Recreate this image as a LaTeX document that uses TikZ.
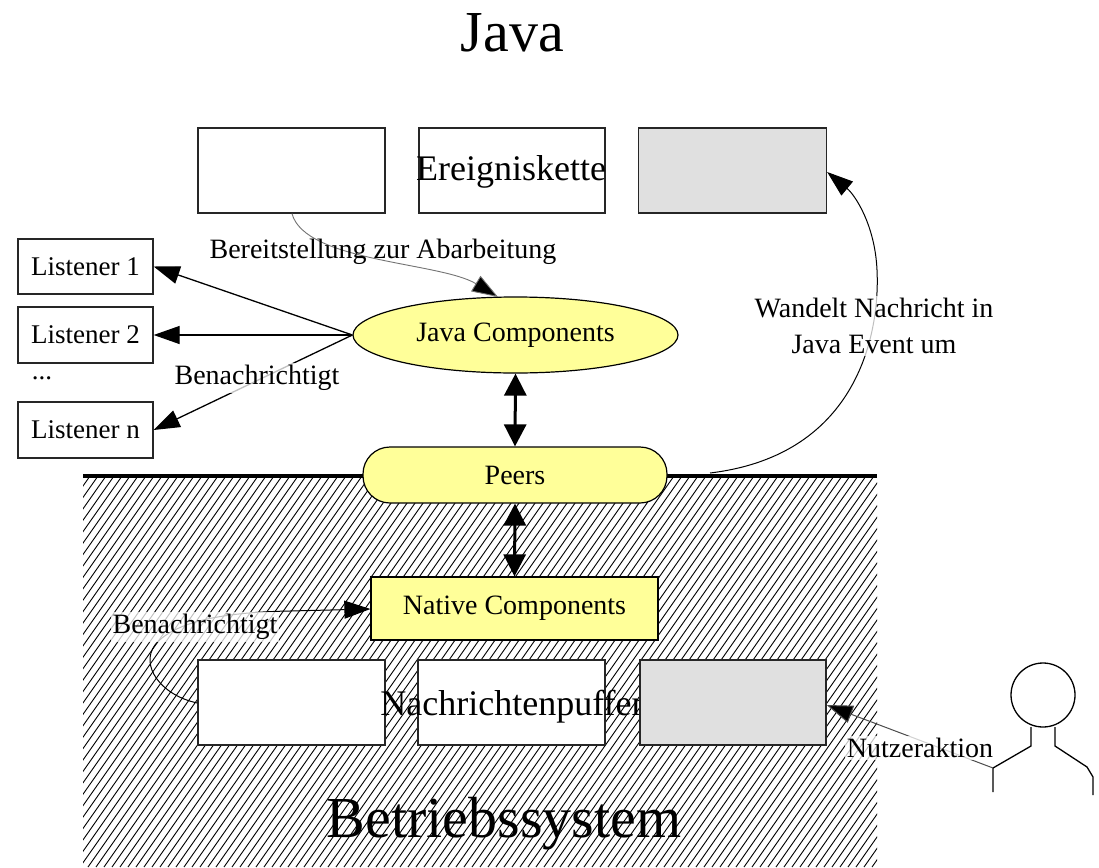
\documentclass[tikz,border=0pt]{standalone}
\usepackage{fontspec}
\setmainfont{Liberation Serif}
\usetikzlibrary{shapes.geometric,arrows.meta}
\definecolor{yel}{RGB}{255,255,153}
\definecolor{lgray}{RGB}{224,224,224}
\begin{document}
\begin{tikzpicture}[x=1pt,y=-1pt,
 box/.style={draw=black!85,line width=1.3pt,fill=white,minimum width=187pt,minimum height=85pt,inner sep=0pt},
 lbox/.style={draw=black!85,line width=1.3pt,fill=white,minimum width=135pt,minimum height=55pt,inner sep=0pt,font=\fontsize{27}{30}\selectfont},
 lbl/.style={font=\fontsize{28}{36}\selectfont},
 big/.style={font=\fontsize{36}{40}\selectfont,inner sep=0pt},
 huge/.style={font=\fontsize{58}{62}\selectfont,inner sep=0pt,anchor=base},
 glow/.style={fill=white,fill opacity=0.75,text opacity=1,inner sep=2pt},
 arrw/.style={-{Triangle[length=26pt,width=18pt,fill=black]}},
 dbl/.style={{Triangle[length=22pt,width=22pt]}-{Triangle[length=22pt,width=22pt]},line width=3pt},
]
\useasboundingbox (0,0) rectangle (1099,867);
\fill[white] (0,0) rectangle (1099,867);

% hatched region (operating system)
\begin{scope}
\clip (83,476) rectangle (877,867);
\foreach \i in {-200,-192,...,880} \draw[line width=0.9pt] (\i,867) -- ++(274,-391);
\end{scope}
\draw[line width=4pt] (83,476) -- (877,476);

% titles
\node[huge] (java) at (512.5,52) {Java};
\node[huge] (bs) at (504,837) {Betriebssystem};

% event queue
\node[box] (e1) at (291.5,170.5) {};
\node[box,minimum width=186pt] (e2) at (512,170.5) {};
\node[big] (etext) at (511,172) {Ereigniskette};
\node[box,fill=lgray,minimum width=188pt] (e3) at (732.5,170.5) {};

% listeners
\node[lbox] (l1) at (85.5,266.5) {Listener 1};
\node[lbox,minimum height=56pt] (l2) at (85.5,335) {Listener 2};
\node[font=\fontsize{27}{30}\selectfont,inner sep=0pt] (dots) at (42,378) {...};
\node[lbox,minimum height=56pt] (ln) at (85.5,430) {Listener n};

% components
\node[ellipse,draw=black,line width=1.2pt,fill=yel,minimum width=325pt,minimum height=76pt,inner sep=0pt,lbl] (jc) at (515.5,335) {Java Components};
\node[rectangle,rounded corners=27pt,draw=black,line width=1.2pt,fill=yel,minimum width=304pt,minimum height=56pt,inner sep=0pt,lbl] (peers) at (515,475) {Peers};
\node[rectangle,draw=black,line width=1.2pt,fill=yel,minimum width=287pt,minimum height=63pt,inner sep=0pt,lbl] (nc) at (514.5,608.5) {Native Components};

% message buffer
\node[box] (m1) at (291.5,702.5) {};
\node[box] (m2) at (511.5,702.5) {};
\node[big] (mtext) at (512,707) {Nachrichtenpuffer};
\node[box,fill=lgray,minimum width=186pt] (m3) at (733,702.5) {};

% person
\coordinate (hand) at (993,768);
\draw[line width=1.3pt] (1043,695) circle[radius=32pt];
\draw[line width=1.3pt] (1031,727) -- (1031,746) -- (hand) -- (993,792);
\draw[line width=1.3pt] (1055,727) -- (1055,746) -- (1087,767) -- (1093,777) -- (1093,795);

% connectors
\draw[arrw,line width=1.3pt] (jc.west) -- (l1.east);
\draw[arrw,line width=1.3pt] (jc.west) -- (l2.east);
\draw[arrw,line width=1.3pt] (jc.west) -- (ln.east);
\draw[dbl] (jc.south) -- (peers.north);
\draw[dbl] (peers.south) -- (nc.north);
\draw[black!55,line width=0.9pt,arrw] (e1.south -| 292,0) .. controls (305,262) and (440,262) .. (498,297);
\coordinate (w0) at (710,473);
\draw[line width=1pt,arrw] (w0) .. controls (860,455) and (880,330) .. (877,270) .. controls (875,225) and (855,195) .. (e3.east |- 0,172);
\draw[line width=1pt,arrw] (m1.west |- 0,703) .. controls (160,695) and (140,665) .. (155,645) .. controls (175,620) and (230,612) .. (290,611) -- (nc.west |- 0,609);
\draw[black!70,line width=1pt,arrw] (hand) -- (m3.east |- 0,705);

% labels
\node[lbl] (lb1) at (383,252) {Bereitstellung zur Abarbeitung};
\node[lbl,glow] (lb2) at (257,378) {Benachrichtigt};
\node[lbl,glow,align=center] (lb3) at (874,326) {Wandelt Nachricht in\\Java Event um};
\node[lbl,glow] (lb4) at (195,627) {Benachrichtigt};
\node[lbl,glow] (lb5) at (920,748) {Nutzeraktion};
\end{tikzpicture}
\end{document}
